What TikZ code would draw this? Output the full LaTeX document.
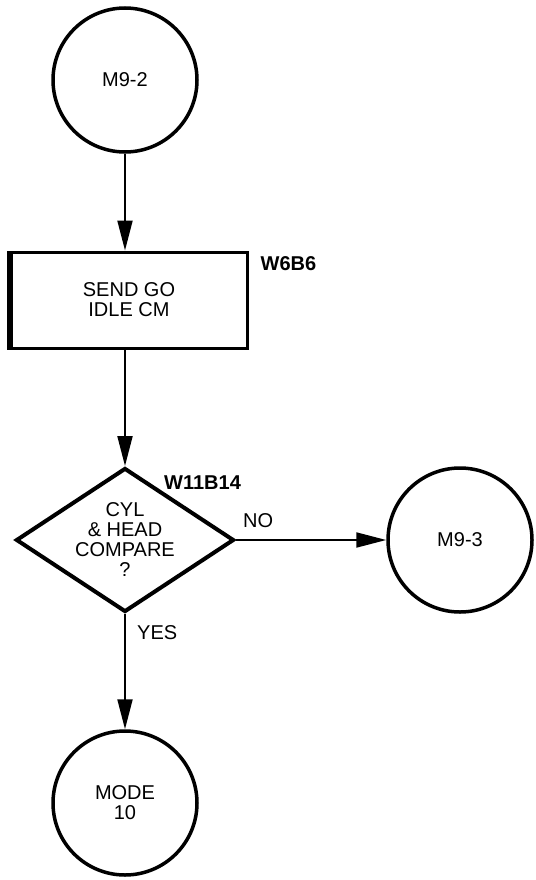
\documentclass[tikz,border=0pt]{standalone}
\usepackage{fontspec}
\setmainfont{Liberation Sans}
\usepackage{tikz}
\usetikzlibrary{shapes.geometric, arrows.meta, positioning, calc}
\newcommand{\chartfont}{\fontsize{20}{20}\selectfont}
\tikzset{
  connector/.style={circle, draw=black, line width=3.5pt, minimum size=144pt, inner sep=0pt, align=center, font=\chartfont},
  process/.style={rectangle, draw=black, line width=3pt, minimum width=236pt, minimum height=96pt, align=center, font=\chartfont},
  decision/.style={diamond, aspect=1.514, draw=black, line width=4pt, minimum width=218pt, minimum height=144pt, inner sep=0pt, align=center, font=\chartfont},
  arrow/.style={-{Triangle[length=30pt, width=15pt]}, line width=2pt},
}

\begin{document}
\begin{tikzpicture}[
  x=1pt, y=1pt,
  tag/.style={inner sep=0pt, font=\chartfont}]

% page frame
\useasboundingbox (0,0) rectangle (535,-880);

% flow nodes
\node[connector] (m92)    at (125,-80)  {M9-2};
\node[process]   (send)   at (129,-300) {SEND GO\\IDLE CM};
\node[decision]  (cmp)    at (125,-540) {CYL\\\& HEAD\\COMPARE\\?};
\node[connector] (m93)    at (460,-540) {M9-3};
\node[connector] (mode10) at (125,-803) {MODE\\10};

% heavier left edge of the box
\draw[line width=5pt] (send.south west) -- (send.north west);

% reference tags
\node[tag, font=\chartfont\bfseries, anchor=north west] (w6b6)   at ([xshift=12pt, yshift=-6pt]send.north east) {W6B6};
\node[tag, font=\chartfont\bfseries, anchor=north west] (w11b14) at ([xshift=39pt, yshift=-10pt]cmp.north) {W11B14};
\node[tag, anchor=south west] (no)  at ([xshift=7pt, yshift=12pt]cmp.east) {NO};
\node[tag, anchor=north west] (yes) at ([xshift=12pt, yshift=-11pt]cmp.south) {YES};

% flow lines
\draw[arrow] (m92.south) -- (m92.south |- send.north);
\draw[arrow] (cmp.north |- send.south) -- (cmp.north);
\draw[arrow] (cmp.east) -- (m93.west);
\draw[arrow] (cmp.south) -- (mode10.north);
\end{tikzpicture}
\end{document}
